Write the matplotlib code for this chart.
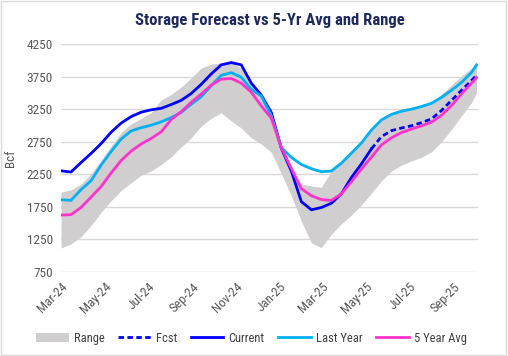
import matplotlib
matplotlib.use('agg')
import matplotlib.pyplot as plt
import matplotlib.dates as mdates
from matplotlib import font_manager
from matplotlib.patches import Rectangle
import pandas as pd

# biweekly storage points, Mar-24 .. Oct-25 (Bcf)
dates = list(pd.date_range('2024-03-01', periods=42, freq='14D')) + [pd.Timestamp('2025-10-03')]

range_hi = [1976, 2010, 2100, 2260, 2460, 2680, 2890, 3025, 3105, 3200, 3390, 3475, 3590, 3730,
            3880, 3940, 3960, 3965, 3880, 3640, 3470, 3220, 2700, 2330, 2100, 2070, 2050, 2300,
            2421, 2575, 2730, 2930, 3085, 3170, 3218, 3250, 3300, 3370, 3480, 3620, 3760, 3880, 3950]
range_lo = [1118, 1180, 1290, 1465, 1665, 1845, 2000, 2120, 2235, 2300, 2400, 2520, 2670, 2810,
            2990, 3110, 3195, 3070, 2960, 2810, 2715, 2590, 2260, 1920, 1530, 1199, 1125, 1330,
            1490, 1625, 1780, 1961, 2150, 2300, 2390, 2455, 2510, 2595, 2750, 2940, 3150, 3350, 3500]
current = [2303, 2285, 2430, 2570, 2720, 2895, 3035, 3135, 3203, 3240, 3262, 3320, 3385, 3490,
           3630, 3790, 3930, 3965, 3930, 3650, 3465, 3200, 2650, 2300, 1830, 1705, 1740, 1805,
           1950, 2200, 2410, 2640]
fcst = [2640, 2829, 2920, 2960, 2995, 3043, 3100, 3230, 3385, 3540, 3690, 3770]
last_year = [1858, 1850, 2015, 2150, 2390, 2600, 2790, 2915, 2965, 3003, 3055, 3120, 3200, 3325,
             3440, 3610, 3770, 3810, 3740, 3555, 3450, 3150, 2660, 2510, 2400, 2335, 2290, 2300,
             2421, 2575, 2730, 2930, 3085, 3170, 3218, 3250, 3290, 3340, 3430, 3540, 3660, 3815, 3930]
avg5 = [1624, 1630, 1740, 1900, 2060, 2270, 2460, 2605, 2715, 2800, 2900, 3090, 3210, 3355,
        3480, 3620, 3710, 3720, 3650, 3510, 3300, 3111, 2660, 2340, 2030, 1920, 1862, 1848,
        1950, 2135, 2330, 2513, 2701, 2810, 2890, 2945, 2993, 3050, 3155, 3305, 3485, 3650, 3735]

names = set(f.name for f in font_manager.fontManager.ttflist)
font = next((f for f in ['Liberation Sans Narrow', 'Roboto Condensed', 'Liberation Sans']
             if f in names), 'DejaVu Sans')
plt.rcParams['font.family'] = font

fig = plt.figure(figsize=(5.08, 3.56), dpi=100)
ax = fig.add_axes([61/508, 1 - 272/356, 417/508, 228/356])

grey = '#D0CECE'
ax.fill_between(dates, range_lo, range_hi, color=grey, lw=0, label='Range')
ax.plot(dates[31:], fcst, color='#0000FF', lw=2, ls=(0, (2, 1.2)), label='Fcst')
ax.plot(dates[:32], current, color='#0000FF', lw=2, label='Current')
ax.plot(dates, last_year, color='#00B0F0', lw=2, label='Last Year')
ax.plot(dates, avg5, color='#FF33CC', lw=2, label='5 Year Avg')

ax.set_ylim(750, 4250)
ax.set_yticks(range(750, 4251, 500))
ax.set_xlim(pd.Timestamp('2024-03-01'), pd.Timestamp('2025-10-05'))
ax.xaxis.set_major_locator(mdates.MonthLocator(bymonth=[1, 3, 5, 7, 9, 11]))
ax.xaxis.set_major_formatter(mdates.DateFormatter('%b-%y'))
for lab in ax.get_xticklabels():
    lab.set_rotation(45)
    lab.set_ha('right')
    lab.set_rotation_mode('anchor')
ax.tick_params(length=0, colors='#595959', labelsize=9.5, pad=6)
ax.grid(axis='y', color='#D9D9D9', lw=1)
ax.set_axisbelow(True)
for s in ax.spines.values():
    s.set_visible(False)
ax.set_ylabel('Bcf', color='#595959', fontsize=9.5, labelpad=7)

fig.text(0.532, 0.943, 'Storage Forecast vs 5-Yr Avg and Range', ha='center', va='center',
         fontsize=12, fontweight='bold', color='#1F2A5C')

h, l = ax.get_legend_handles_labels()
fig.legend(h, l, loc='center', bbox_to_anchor=(0.495, 0.05), ncol=5, frameon=False,
           fontsize=9, handlelength=2.6, columnspacing=1.1, handletextpad=0.4,
           labelcolor='#404040')

fig.patches.append(Rectangle((0.002, 0.003), 0.995, 0.994, transform=fig.transFigure,
                             fill=False, ec='#D9D9D9', lw=1))
fig.savefig('out.png', dpi=100)
